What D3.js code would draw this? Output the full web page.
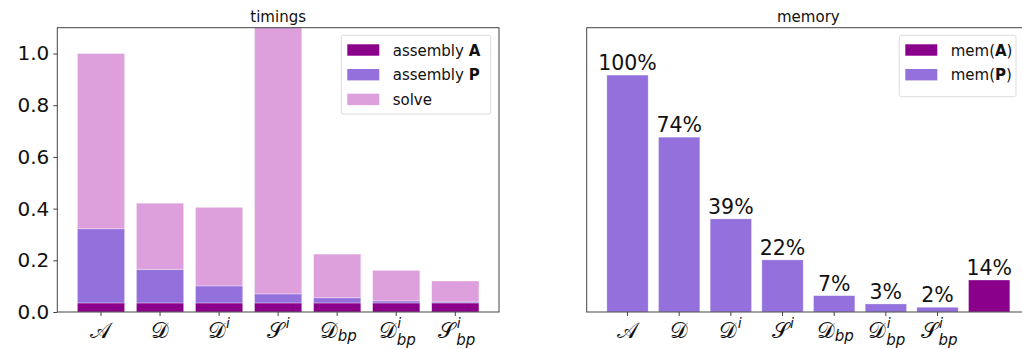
<!DOCTYPE html>
<html>
<head>
<meta charset="utf-8">
<script src="https://cdn.jsdelivr.net/npm/d3@7/dist/d3.min.js"></script>
<style>
  html, body { margin: 0; padding: 0; background: #fff; }
  svg { display: block; font-family: "DejaVu Sans", sans-serif; }
</style>
</head>
<body>
<svg id="chart" width="1022" height="349"></svg>
<script>
// Method labels: base glyph, superscript, subscript
const catBase = ["𝒜", "𝒟", "𝒟", "𝒮", "𝒟", "𝒟", "𝒮"];
const catSup  = ["",  "",  "i", "i", "",  "i", "i"];
const catSub  = ["",  "",  "",  "",  "bp", "bp", "bp"];

// Timings (normalised), stacked: assembly A, assembly P, solve
const asmA  = [0.035, 0.035, 0.035, 0.035, 0.035, 0.035, 0.035];
const asmP  = [0.287, 0.130, 0.066, 0.035, 0.020, 0.008, 0.004];
const solve = [0.678, 0.256, 0.304, 1.230, 0.169, 0.118, 0.081];
const timeTicks = [0.0, 0.2, 0.4, 0.6, 0.8, 1.0];

// Memory relative to method A
const memP = [1.0, 0.738, 0.393, 0.22, 0.069, 0.034, 0.02];
const memA = [0.135];

const colA = "#8B008B", colP = "#9370DB", colS = "#DDA0DD";
const textCol = "#111", spineCol = "#444";

const svg = d3.select("#chart");

const plotTop = 27.7, plotBottom = 312;

function drawLabel(g, x, i) {
  const t = g.append("text").attr("x", x).attr("y", 338)
    .attr("text-anchor", "middle")
    .style("font-family", "'DejaVu Serif', 'DejaVu Sans', serif")
    .style("font-size", "22px").attr("fill", textCol)
    .text(catBase[i]);
  const bb = t.node().getBBox();
  if (catSup[i] || catSub[i]) {
    // shift base left so the composite stays centred on the tick
    const subW = catSub[i] ? 17 : 5;
    t.attr("x", x - subW / 2);
    const bx = x - subW / 2 + bb.width / 2;
    if (catSup[i]) {
      g.append("text").attr("x", bx + 0.5).attr("y", 328)
        .style("font-style", "italic").style("font-size", "14px")
        .attr("fill", textCol).text(catSup[i]);
    }
    if (catSub[i]) {
      g.append("text").attr("x", bx).attr("y", catSup[i] ? 345 : 341)
        .style("font-style", "italic").style("font-size", "15px")
        .attr("fill", textCol).text(catSub[i]);
    }
  }
}

function legend(g, x0, y0, w, h, items, textX) {
  g.append("rect").attr("x", x0).attr("y", y0).attr("width", w).attr("height", h)
    .attr("rx", 2).attr("fill", "#fff").attr("fill-opacity", 0.8)
    .attr("stroke", "#ddd").attr("stroke-width", 1);
  items.forEach((it, k) => {
    const cy = y0 + 14.7 + k * 24.7;
    g.append("rect").attr("x", x0 + 6).attr("y", cy - 5.7).attr("width", 32).attr("height", 11.4)
      .attr("fill", it.color);
    const t = g.append("text").attr("x", textX).attr("y", cy + 5.5)
      .style("font-size", "15px").attr("fill", textCol);
    it.parts.forEach(p => t.append("tspan").style("font-weight", p.b ? "bold" : "normal").text(p.t));
  });
}

// ---------- timings ----------
{
  const x0 = 57.3, x1 = 499;
  const x = d3.scaleBand().domain(d3.range(catBase.length)).range([x0, x1])
    .paddingInner(0.2).paddingOuter(0.34);
  const y = d3.scaleLinear().domain([0, 1.1]).range([plotBottom, plotTop]);
  const g = svg.append("g");

  svg.append("clipPath").attr("id", "clipL").append("rect")
    .attr("x", x0).attr("y", plotTop).attr("width", x1 - x0).attr("height", plotBottom - plotTop);

  const stackData = catBase.map((c, i) => ({ i, a: asmA[i], p: asmP[i], s: solve[i] }));
  const series = d3.stack().keys(["a", "p", "s"])(stackData);
  const colors = { a: colA, p: colP, s: colS };

  g.append("g").attr("clip-path", "url(#clipL)")
    .selectAll("g").data(series).join("g").attr("fill", d => colors[d.key])
    .selectAll("rect").data(d => d).join("rect")
    .attr("x", d => x(d.data.i)).attr("width", x.bandwidth())
    .attr("y", d => y(d[1])).attr("height", d => y(d[0]) - y(d[1]))
    .attr("stroke", "#fff").attr("stroke-opacity", 0.45).attr("stroke-width", 0.7);

  // y axis
  const ya = g.append("g").attr("transform", `translate(${x0},0)`)
    .call(d3.axisLeft(y).tickValues(timeTicks).tickFormat(d3.format(".1f")).tickSize(4).tickPadding(4));
  ya.select(".domain").remove();
  ya.selectAll("line").attr("stroke", spineCol);
  ya.selectAll("text").style("font-size", "20px").style("font-family", "'DejaVu Sans', sans-serif").attr("fill", textCol);

  // x ticks
  const xa = g.append("g").attr("transform", `translate(0,${plotBottom})`)
    .call(d3.axisBottom(x).tickSize(4).tickFormat(""));
  xa.select(".domain").remove();
  xa.selectAll("line").attr("stroke", spineCol);

  catBase.forEach((c, i) => drawLabel(g, x(i) + x.bandwidth() / 2, i));

  g.append("rect").attr("x", x0).attr("y", plotTop).attr("width", x1 - x0).attr("height", plotBottom - plotTop)
    .attr("fill", "none").attr("stroke", spineCol).attr("stroke-width", 1);

  g.append("text").attr("x", (x0 + x1) / 2).attr("y", 22).attr("text-anchor", "middle")
    .style("font-size", "15px").attr("fill", textCol).text("timings");

  legend(g, 341.3, 35.3, 149.4, 78.7, [
    { color: colA, parts: [{ t: "assembly " }, { t: "A", b: true }] },
    { color: colP, parts: [{ t: "assembly " }, { t: "P", b: true }] },
    { color: colS, parts: [{ t: "solve" }] }
  ], 392.7);
}

// ---------- memory ----------
{
  const x0 = 586.7, x1 = 1030;
  const n = memP.length + memA.length;
  const x = d3.scaleBand().domain(d3.range(n)).range([x0, x1])
    .paddingInner(0.2).paddingOuter(0.39);
  const y = d3.scaleLinear().domain([0, 1.2]).range([plotBottom, plotTop]);
  const g = svg.append("g");

  const bars = memP.map((v, i) => ({ i, v, c: colP }))
    .concat(memA.map((v, k) => ({ i: memP.length + k, v, c: colA })));

  g.selectAll("rect.bar").data(bars).join("rect").attr("class", "bar")
    .attr("x", d => x(d.i)).attr("width", x.bandwidth())
    .attr("y", d => y(d.v)).attr("height", d => y(0) - y(d.v))
    .attr("fill", d => d.c)
    .attr("stroke", "#fff").attr("stroke-opacity", 0.45).attr("stroke-width", 0.7);

  g.selectAll("text.val").data(bars).join("text").attr("class", "val")
    .attr("x", d => x(d.i) + x.bandwidth() / 2).attr("y", d => y(d.v) - 5)
    .attr("text-anchor", "middle").style("font-size", "20.5px").attr("fill", textCol)
    .text(d => Math.round(d.v * 100) + "%");

  const xa = g.append("g").attr("transform", `translate(0,${plotBottom})`)
    .call(d3.axisBottom(x).tickValues(d3.range(catBase.length)).tickSize(4).tickFormat(""));
  xa.select(".domain").remove();
  xa.selectAll("line").attr("stroke", spineCol);

  catBase.forEach((c, i) => drawLabel(g, x(i) + x.bandwidth() / 2, i));

  g.append("rect").attr("x", x0).attr("y", plotTop).attr("width", x1 - x0).attr("height", plotBottom - plotTop)
    .attr("fill", "none").attr("stroke", spineCol).attr("stroke-width", 1);

  g.append("text").attr("x", (x0 + x1) / 2).attr("y", 22).attr("text-anchor", "middle")
    .style("font-size", "15px").attr("fill", textCol).text("memory");

  legend(g, 899.3, 35.3, 116.7, 61.4, [
    { color: colA, parts: [{ t: "mem(" }, { t: "A", b: true }, { t: ")" }] },
    { color: colP, parts: [{ t: "mem(" }, { t: "P", b: true }, { t: ")" }] }
  ], 950.7);
}
</script>
</body>
</html>
